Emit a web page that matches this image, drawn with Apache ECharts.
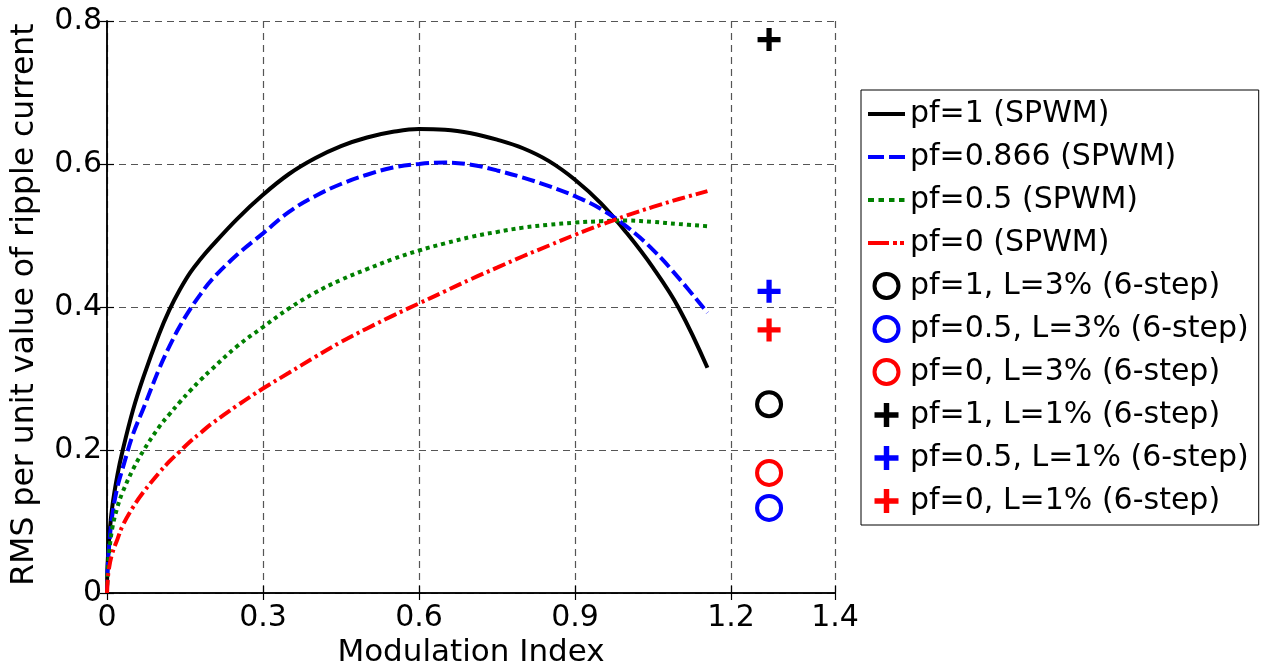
<!DOCTYPE html>
<html>
<head>
<meta charset="utf-8">
<script src="https://cdn.jsdelivr.net/npm/echarts@6/dist/echarts.min.js"></script>
<style>
  html, body { margin: 0; padding: 0; background: #fff; }
  #chart { width: 1265px; height: 671px; }
</style>
</head>
<body>
<div id="chart"></div>
<script>
// modulation index samples (x) for the SPWM curves
const modIndex = [0, 0.001, 0.004, 0.01, 0.02, 0.03, 0.05, 0.07, 0.1, 0.12, 0.14, 0.16, 0.18, 0.2,
  0.25, 0.3, 0.35, 0.4, 0.45, 0.5, 0.55, 0.6, 0.65, 0.7, 0.75, 0.8, 0.85, 0.9, 0.95, 1.0, 1.05, 1.1, 1.1547];

// RMS ripple current per unit
const pf1 = [0, 0.038, 0.075, 0.12, 0.165, 0.199, 0.256, 0.302, 0.362, 0.396, 0.424, 0.448, 0.467, 0.484,
  0.523, 0.557, 0.586, 0.608, 0.625, 0.637, 0.645, 0.649, 0.648, 0.643, 0.634, 0.622, 0.604, 0.578, 0.545, 0.503, 0.455, 0.398, 0.315];
const pf0866 = [0, 0.03, 0.065, 0.108, 0.148, 0.174, 0.222, 0.258, 0.313, 0.345, 0.373, 0.397, 0.418, 0.437,
  0.473, 0.503, 0.533, 0.555, 0.572, 0.585, 0.595, 0.600, 0.602, 0.599, 0.591, 0.581, 0.569, 0.555, 0.537, 0.512, 0.480, 0.440, 0.392];
const pf05 = [0, 0.025, 0.055, 0.09, 0.12, 0.141, 0.173, 0.199, 0.232, 0.250, 0.267, 0.283, 0.298, 0.312,
  0.345, 0.372, 0.398, 0.420, 0.438, 0.453, 0.467, 0.479, 0.489, 0.498, 0.505, 0.511, 0.515, 0.518, 0.520, 0.521, 0.519, 0.516, 0.513];
const pf0 = [0, 0.015, 0.035, 0.055, 0.075, 0.094, 0.12, 0.141, 0.168, 0.184, 0.198, 0.212, 0.224, 0.236,
  0.262, 0.286, 0.308, 0.330, 0.351, 0.370, 0.388, 0.405, 0.422, 0.439, 0.455, 0.471, 0.486, 0.501, 0.515, 0.528, 0.540, 0.551, 0.562];

// six-step points (modulation index 4/pi)
const sixStepM = 1.2732;
const step3 = { pf1: 0.264, pf05: 0.119, pf0: 0.168 };
const step1 = { pf1: 0.774, pf05: 0.422, pf0: 0.368 };

const xTicks = { min: 0, max: 1.4, step: 0.3 };
const yTicks = { min: 0, max: 0.8, step: 0.2 };

const FONT = 'DejaVu Sans';
const plusPath = 'path://M8.5,0H13.5V8.5H22V13.5H13.5V22H8.5V13.5H0V8.5H8.5Z';

// legend line samples drawn as filled bars in a 37x24 box (tiny corner anchors keep the box)
const anchors = 'M0,0L0.01,0L0,0.01Z M37,24L36.99,24L37,23.99Z ';
const icons = {
  solid: 'path://' + anchors + 'M0,10H37V14H0Z',
  dash: 'path://' + anchors + 'M0,10H16V14H0Z M21,10H37V14H21Z',
  dot: 'path://' + anchors + 'M0,10H6V14H0Z M10.5,10H16V14H10.5Z M21,10H26.5V14H21Z M31,10H36.5V14H31Z',
  dashdot: 'path://' + anchors + 'M0,10H21V14H0Z M25,10H29V14H25Z M32,10H36V14H32Z'
};

function pairs(ys) {
  return modIndex.map((x, i) => [x, ys[i]]);
}

function lineSeries(name, ys, color, type) {
  return {
    name: name,
    type: 'line',
    data: pairs(ys),
    smooth: 0.4,
    symbol: 'none',
    lineStyle: { color: color, width: 4, type: type, cap: 'butt' },
    itemStyle: { color: color }
  };
}

function pointSeries(name, y, color, isPlus) {
  return {
    name: name,
    type: 'scatter',
    data: [[sixStepM, y]],
    symbol: isPlus ? plusPath : 'circle',
    symbolSize: isPlus ? 23 : 24,
    symbolKeepAspect: true,
    itemStyle: isPlus
      ? { color: color, opacity: 1 }
      : { color: 'rgba(255,255,255,0)', borderColor: color, borderWidth: 4, opacity: 1 }
  };
}

const chart = echarts.init(document.getElementById('chart'), null, { renderer: 'canvas' });

const axisCommon = {
  axisLine: { show: true, lineStyle: { color: '#000', width: 1.5 } },
  axisTick: { show: true, inside: true, length: 7, lineStyle: { color: '#000', width: 1.2 } }
};
const gridLine = { show: true, lineStyle: { color: '#555', width: 1.2, type: [7, 5] } };
const ringLegend = { borderWidth: 4 };

chart.setOption({
  animation: false,
  backgroundColor: '#fff',
  grid: { left: 107, top: 21, right: 430, bottom: 78, outerBoundsMode: 'none' },
  xAxis: [
    Object.assign({
      type: 'value',
      min: xTicks.min, max: xTicks.max, interval: xTicks.step,
      name: 'Modulation Index',
      nameLocation: 'middle',
      nameGap: 40,
      nameTextStyle: { fontFamily: FONT, fontSize: 31, color: '#000' },
      axisLabel: {
        fontFamily: FONT, fontSize: 30, color: '#000', margin: 10,
        showMinLabel: true, showMaxLabel: true
      },
      splitLine: gridLine
    }, axisCommon),
    Object.assign({
      type: 'value', position: 'top',
      min: xTicks.min, max: xTicks.max, interval: xTicks.step,
      axisLabel: { show: false },
      splitLine: { show: false }
    }, axisCommon)
  ],
  yAxis: [
    Object.assign({
      type: 'value',
      min: yTicks.min, max: yTicks.max, interval: yTicks.step,
      name: 'RMS per unit value of ripple current',
      nameLocation: 'middle',
      nameRotate: 90,
      nameGap: 66,
      nameTextStyle: { fontFamily: FONT, fontSize: 31.5, color: '#000', padding: [0, 0, 0, 5] },
      axisLabel: {
        fontFamily: FONT, fontSize: 30, color: '#000', margin: 5,
        formatter: v => (v === 0 ? '0' : v.toFixed(1))
      },
      splitLine: gridLine
    }, axisCommon),
    Object.assign({
      type: 'value', position: 'right',
      min: yTicks.min, max: yTicks.max, interval: yTicks.step,
      axisLabel: { show: false },
      splitLine: { show: false }
    }, axisCommon)
  ],
  legend: {
    orient: 'vertical',
    left: 861,
    top: 90,
    padding: [9, 10, 9, 7],
    backgroundColor: '#fff',
    borderColor: '#000',
    borderWidth: 1,
    borderRadius: 0,
    itemWidth: 37,
    itemHeight: 24,
    itemGap: 13,
    textStyle: { fontFamily: FONT, fontSize: 30, lineHeight: 30, color: '#000' },
    data: [
      { name: 'pf=1 (SPWM)', icon: icons.solid },
      { name: 'pf=0.866 (SPWM)', icon: icons.dash },
      { name: 'pf=0.5 (SPWM)', icon: icons.dot },
      { name: 'pf=0 (SPWM)', icon: icons.dashdot },
      { name: 'pf=1, L=3% (6-step)', itemStyle: ringLegend },
      { name: 'pf=0.5, L=3% (6-step)', itemStyle: ringLegend },
      { name: 'pf=0, L=3% (6-step)', itemStyle: ringLegend },
      { name: 'pf=1, L=1% (6-step)' },
      { name: 'pf=0.5, L=1% (6-step)' },
      { name: 'pf=0, L=1% (6-step)' }
    ]
  },
  series: [
    lineSeries('pf=1 (SPWM)', pf1, '#000000', 'solid'),
    lineSeries('pf=0.866 (SPWM)', pf0866, '#0000ff', [13, 5]),
    lineSeries('pf=0.5 (SPWM)', pf05, '#008000', [4, 4]),
    lineSeries('pf=0 (SPWM)', pf0, '#ff0000', [13, 4, 3, 4]),
    pointSeries('pf=1, L=3% (6-step)', step3.pf1, '#000000', false),
    pointSeries('pf=0.5, L=3% (6-step)', step3.pf05, '#0000ff', false),
    pointSeries('pf=0, L=3% (6-step)', step3.pf0, '#ff0000', false),
    pointSeries('pf=1, L=1% (6-step)', step1.pf1, '#000000', true),
    pointSeries('pf=0.5, L=1% (6-step)', step1.pf05, '#0000ff', true),
    pointSeries('pf=0, L=1% (6-step)', step1.pf0, '#ff0000', true)
  ]
});
</script>
</body>
</html>
